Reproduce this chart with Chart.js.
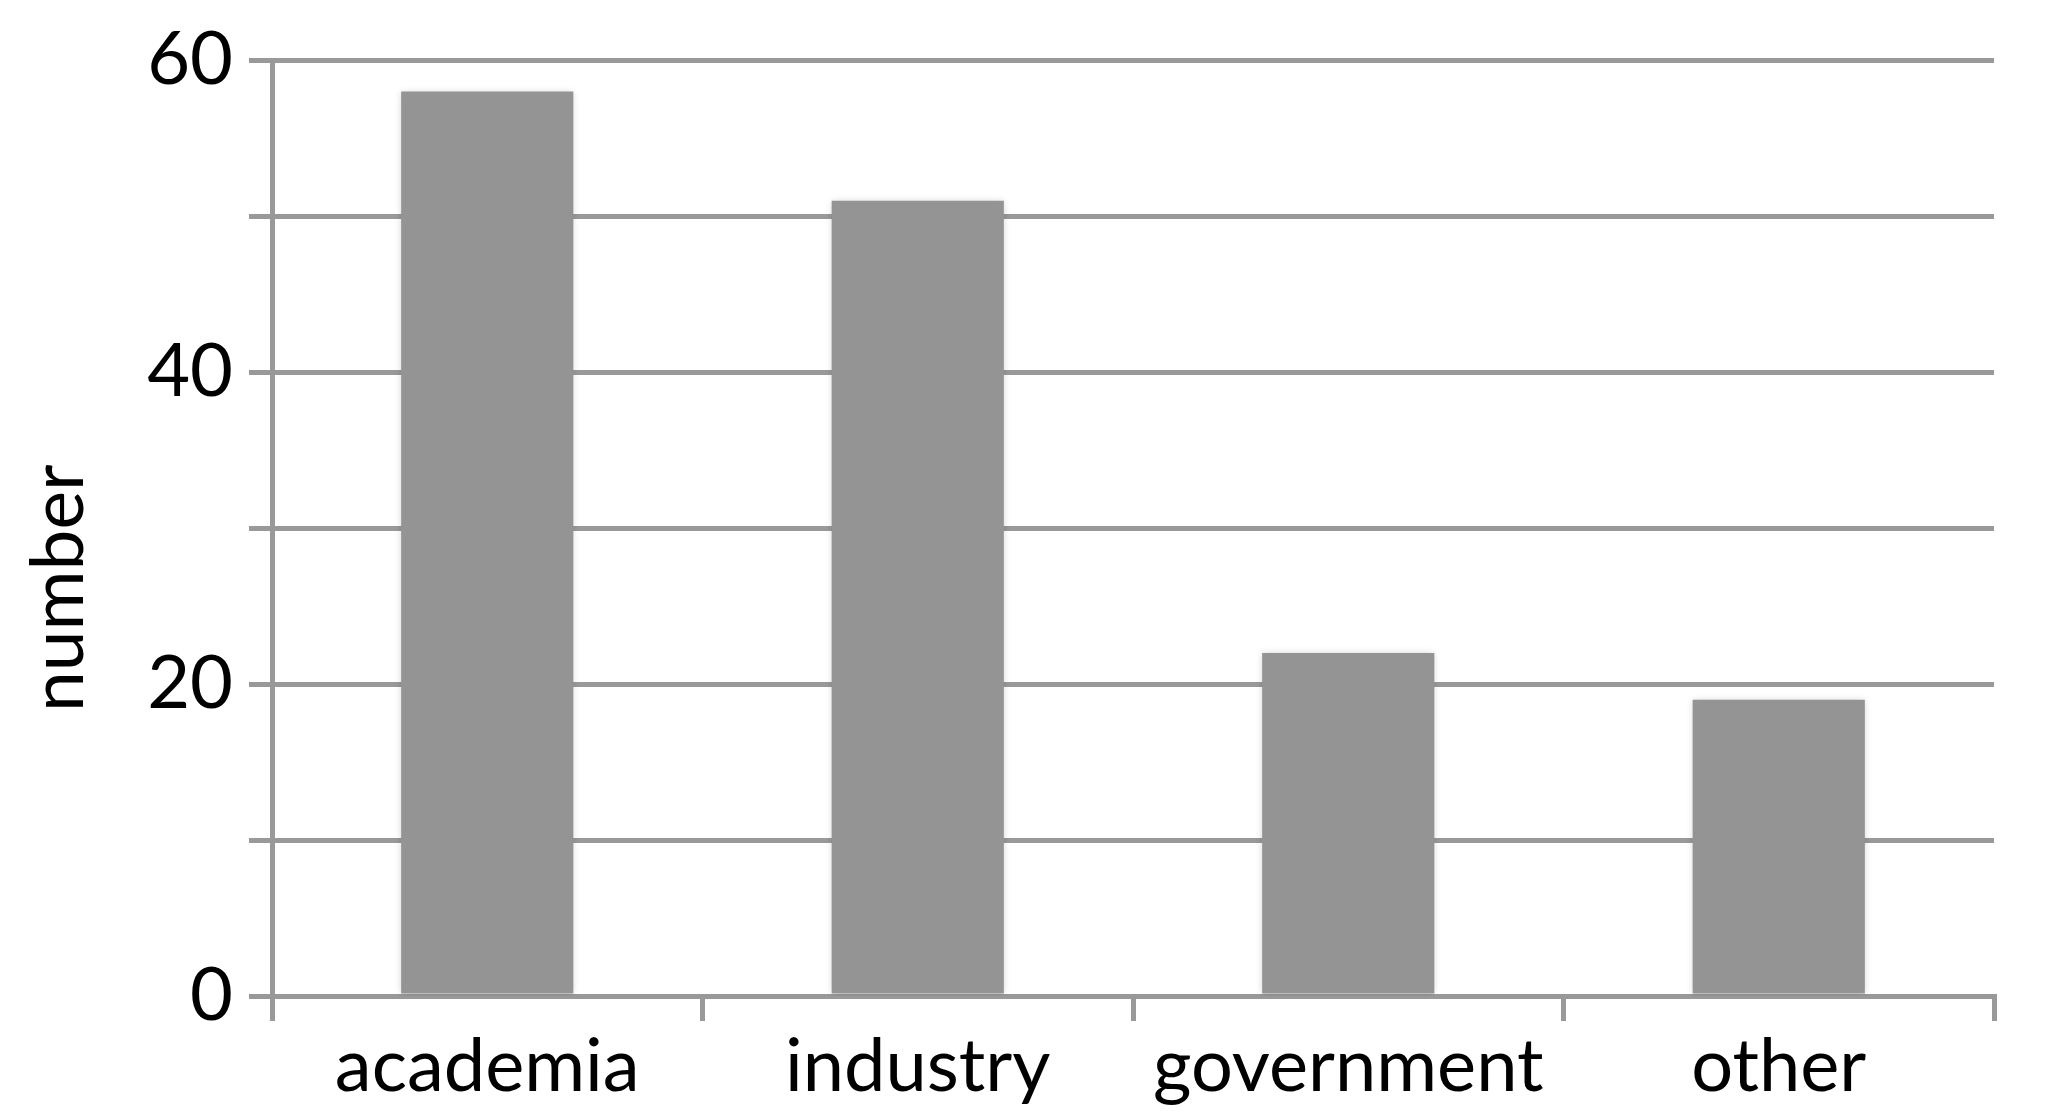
<!DOCTYPE html>
<html>
<head>
<meta charset="utf-8">
<title>number by sector</title>
<script src="https://cdn.jsdelivr.net/npm/chart.js@4/dist/chart.umd.min.js"></script>
<style>
    html, body { margin: 0; padding: 0; background: #fff; }
    #wrap { width: 2058px; height: 1119px; position: relative; }
</style>
</head>
<body>
<div id="wrap"><canvas id="sectorChart"></canvas></div>
<script>
    "use strict";

    // data
    var categories = ['academia', 'industry', 'government', 'other'];
    var counts = [58, 51, 22, 19];
    var yTickLabels = [0, 20, 40, 60];
    var yTitle = 'number';

    var gridColor = '#999999',
        barColor = '#949494',
        fontFamily = 'Lato, "Open Sans", sans-serif';

    /**
     * draws the rotated y axis title, sitting a bit below the middle like in the original
     */
    var yTitlePlugin = {
        id: 'yTitle',
        afterDraw: function(chart) {
            var ctx = chart.ctx,
                area = chart.chartArea;
            ctx.save();
            ctx.translate(83, area.top + (area.bottom - area.top) / 2 + 60);
            ctx.rotate(-Math.PI / 2);
            ctx.font = '73px ' + fontFamily;
            ctx.fillStyle = '#000';
            ctx.textAlign = 'center';
            ctx.textBaseline = 'alphabetic';
            ctx.fillText(yTitle, 0, 0);
            ctx.restore();
        }
    };

    /**
     * soft shadow round the bars
     */
    var barShadowPlugin = {
        id: 'barShadow',
        beforeDatasetsDraw: function(chart) {
            chart.ctx.save();
            chart.ctx.shadowColor = 'rgba(0,0,0,0.18)';
            chart.ctx.shadowBlur = 7;
        },
        afterDatasetsDraw: function(chart) {
            chart.ctx.restore();
        }
    };

    var ctx = document.getElementById('sectorChart');
    var sectorChart = new Chart(ctx, {
        type: 'bar',
        data: {
            labels: categories,
            datasets: [{
                data: counts,
                backgroundColor: barColor,
                borderWidth: 0,
                barPercentage: 0.4,
                categoryPercentage: 1.0
            }]
        },
        options: {
            responsive: true,
            maintainAspectRatio: false,
            animation: false,
            events: [],
            layout: {
                padding: { top: 60, right: 64, left: 0, bottom: 0 }
            },
            plugins: {
                legend: { display: false },
                tooltip: { enabled: false },
                title: { display: false }
            },
            scales: {
                x: {
                    afterFit: function(scale) { scale.height = 123; },
                    grid: {
                        offset: true,
                        drawOnChartArea: false,
                        drawTicks: true,
                        tickLength: 25,
                        color: gridColor,
                        lineWidth: 5
                    },
                    border: { display: true, color: gridColor, width: 5 },
                    ticks: {
                        color: '#000',
                        padding: 2,
                        font: { family: fontFamily, size: 74 }
                    }
                },
                y: {
                    min: 0,
                    max: 60,
                    afterFit: function(scale) { scale.width = 272; },
                    grid: {
                        drawTicks: true,
                        tickLength: 23,
                        color: gridColor,
                        lineWidth: 5
                    },
                    border: { display: true, color: gridColor, width: 5 },
                    ticks: {
                        stepSize: 10,
                        color: '#000',
                        padding: 16,
                        font: { family: fontFamily, size: 74 },
                        callback: function(value) {
                            return yTickLabels.indexOf(value) >= 0 ? value : '';
                        }
                    }
                }
            }
        },
        plugins: [yTitlePlugin, barShadowPlugin]
    });
</script>
</body>
</html>
